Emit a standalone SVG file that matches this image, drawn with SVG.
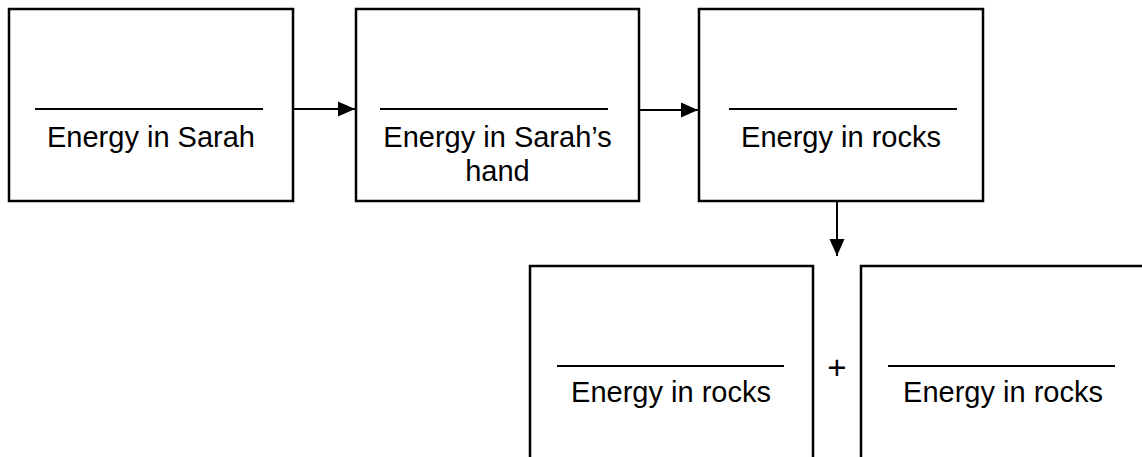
<svg xmlns="http://www.w3.org/2000/svg" width="1142" height="457" viewBox="0 0 1142 457">
  <style>
    .box { fill: #ffffff; stroke: #000000; stroke-width: 2.5; }
    .rule { stroke: #000000; stroke-width: 2; }
    .lbl { font-family: "Liberation Sans", Arial, sans-serif; font-size: 29px; fill: #000000; text-anchor: middle; }
    .plus { font-family: "Liberation Sans", Arial, sans-serif; font-size: 33px; fill: #000000; text-anchor: middle; }
    .conn { stroke: #000000; stroke-width: 2; fill: none; marker-end: url(#arrow); }
  </style>
  <defs>
    <marker id="arrow" markerUnits="userSpaceOnUse" markerWidth="17" markerHeight="17" viewBox="0 0 17 17" refX="17" refY="8.5" orient="auto">
      <path d="M0,1 L17,8.5 L0,16 Z" fill="#000000"/>
    </marker>
  </defs>
  <rect width="1142" height="457" fill="#ffffff"/>

  <g id="node-sarah">
    <rect class="box" x="9" y="9" width="284" height="192"/>
    <line class="rule" x1="35" y1="109" x2="263" y2="109"/>
    <text class="lbl" x="151" y="147">Energy in Sarah</text>
  </g>

  <g id="node-hand">
    <rect class="box" x="356" y="9" width="283" height="192"/>
    <line class="rule" x1="380" y1="109" x2="608" y2="109"/>
    <text class="lbl" x="497.5" y="147">Energy in Sarah’s</text>
    <text class="lbl" x="497.5" y="181">hand</text>
  </g>

  <g id="node-rocks">
    <rect class="box" x="699" y="9" width="284" height="192"/>
    <line class="rule" x1="729" y1="109" x2="957" y2="109"/>
    <text class="lbl" x="841" y="147">Energy in rocks</text>
  </g>

  <g id="node-rocks-a">
    <rect class="box" x="530" y="266" width="283" height="250"/>
    <line class="rule" x1="557" y1="366" x2="784" y2="366"/>
    <text class="lbl" x="671" y="402">Energy in rocks</text>
  </g>

  <g id="plus">
    <text class="plus" x="837" y="379">+</text>
  </g>

  <g id="node-rocks-b">
    <rect class="box" x="861" y="266" width="283" height="250"/>
    <line class="rule" x1="888" y1="366" x2="1115" y2="366"/>
    <text class="lbl" x="1003" y="402">Energy in rocks</text>
  </g>

  <g id="connectors">
    <line class="conn" x1="294" y1="109" x2="355" y2="109"/>
    <line class="conn" x1="640" y1="110" x2="698" y2="110"/>
    <line class="conn" x1="837" y1="202" x2="837" y2="256"/>
  </g>
</svg>
